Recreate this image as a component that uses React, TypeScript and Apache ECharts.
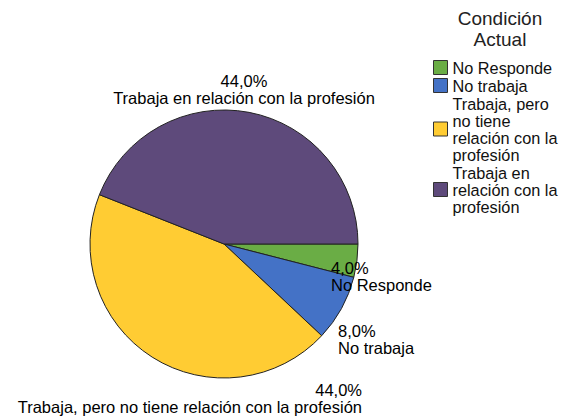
import React, { useEffect, useRef } from "react";
import * as echarts from "echarts";

const categories = [
  "No Responde",
  "No trabaja",
  "Trabaja, pero no tiene relación con la profesión",
  "Trabaja en relación con la profesión",
];
const legendLabels = [
  "No Responde",
  "No trabaja",
  "Trabaja, pero\nno tiene\nrelación con la\nprofesión",
  "Trabaja en\nrelación con la\nprofesión",
];
const percents = [4, 8, 44, 44];
const colors = ["#6aad45", "#4472c6", "#ffcc33", "#5e4a7b"];
const legendTitle = "Condición\nActual";

const FONT = "'Liberation Sans', Arial, sans-serif";

export default function App() {
  const ref = useRef<HTMLDivElement>(null);
  useEffect(() => {
    document.body.style.margin = "0";
    if (!ref.current) return;
    const chart = echarts.init(ref.current, undefined, { renderer: "svg" });
    const labelPos = [
      { x: 331, y: 276, align: "left" },
      { x: 338, y: 339, align: "left" },
      { x: 362, y: 398, align: "right" },
      { x: 244, y: 89, align: "center" },
    ];
    chart.setOption({
      animation: false,
      backgroundColor: "#ffffff",
      title: {
        text: legendTitle,
        left: 500,
        top: 8,
        textAlign: "center",
        padding: 0,
        textStyle: {
          fontFamily: FONT,
          fontSize: 19,
          lineHeight: 21,
          fontWeight: "normal",
          color: "#222",
        },
      },
      legend: {
        orient: "vertical",
        left: 433,
        top: 59,
        padding: 0,
        itemWidth: 14,
        itemHeight: 14,
        itemGap: 1,
        icon: "rect",
        data: categories,
        itemStyle: { borderColor: "#333", borderWidth: 1 },
        formatter: (name: string) => legendLabels[categories.indexOf(name)],
        textStyle: {
          fontFamily: FONT,
          fontSize: 16.3,
          lineHeight: 17,
          color: "#111",
          padding: [0, 0, 0, 0],
        },
      },
      series: [
        {
          type: "pie",
          center: [224, 244],
          radius: 134,
          startAngle: 0,
          clockwise: true,
          avoidLabelOverlap: false,
          itemStyle: { borderColor: "#222", borderWidth: 1 },
          emphasis: { disabled: true },
          label: {
            show: true,
            position: "outside",
            fontFamily: FONT,
            fontSize: 16.5,
            lineHeight: 17,
            color: "#000",
            formatter: (p: any) =>
              p.percent.toFixed(1).replace(".", ",") + "%\n" + p.name,
          },
          labelLine: { show: false },
          labelLayout: (params: any) => {
            const lp = labelPos[params.dataIndex];
            return { x: lp.x, y: lp.y, align: lp.align, verticalAlign: "middle" };
          },
          data: categories.map((name, i) => ({
            name,
            value: percents[i],
            itemStyle: { color: colors[i] },
          })),
        },
      ],
    });
    return () => chart.dispose();
  }, []);
  return <div ref={ref} style={{ width: 564, height: 417 }} />;
}
